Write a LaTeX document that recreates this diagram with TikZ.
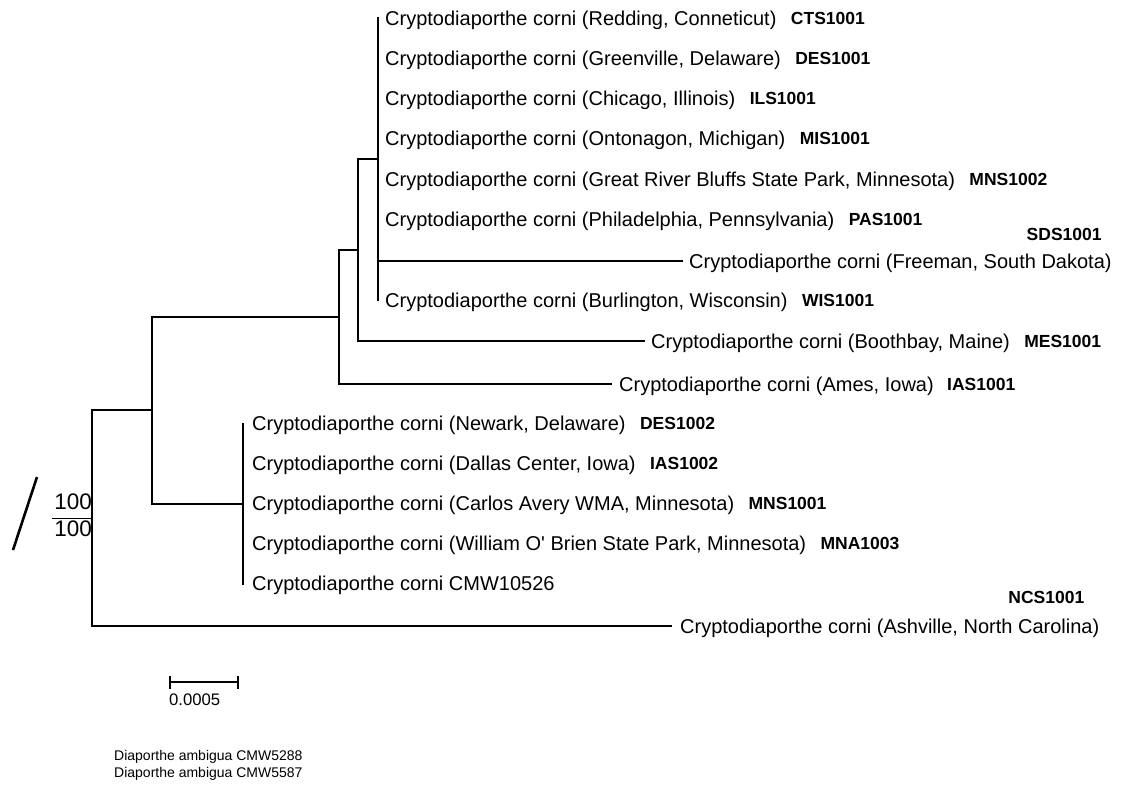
\documentclass[tikz,border=0pt]{standalone}
\usepackage{fontspec}
\setmainfont{Liberation Sans}[Ligatures=TeXOff]
\usetikzlibrary{positioning}
\tikzset{
    branch/.style={line width=1.3pt},
    taxon/.style={inner sep=0pt, anchor=west, text height=14.4pt, text depth=0pt,
        font=\fontsize{20}{24}\selectfont},
    isolate/.style={inner sep=0pt, text height=12.6pt, text depth=0pt,
        font=\fontsize{17.5}{21}\selectfont\bfseries},
    support/.style={inner sep=0pt, anchor=east, font=\fontsize{22.5}{27}\selectfont},
    scalelabel/.style={inner sep=0pt, anchor=west, font=\fontsize{16.7}{20}\selectfont},
    outgroup/.style={inner sep=0pt, anchor=north west, align=left,
        font=\fontsize{14}{17}\selectfont}
}
\newcommand{\cc}{Cryptodiaporthe corni}

\begin{document}
\begin{tikzpicture}[x=1pt, y=-1pt, node distance=14pt]
    \useasboundingbox (0,0) rectangle (1121,785);

    % internal nodes
    \coordinate (root) at (92,518);
    \coordinate (n152) at (152,410);
    \coordinate (n339) at (339,317);
    \coordinate (n358) at (358,250);
    \coordinate (n378) at (378,159);
    \coordinate (n243) at (243,504);

    % branch tips
    \coordinate (tipSD) at (683,261);
    \coordinate (tipME) at (645,341);
    \coordinate (tipIA) at (612,384);
    \coordinate (tipNC) at (672,626);

    % upper clade
    \node[taxon] (redding) at (385,18) {\cc{} (Redding, Conneticut)};
    \node[taxon] (greenville) at (385,58) {\cc{} (Greenville, Delaware)};
    \node[taxon] (chicago) at (385,98) {\cc{} (Chicago, Illinois)};
    \node[taxon] (ontonagon) at (385,138) {\cc{} (Ontonagon, Michigan)};
    \node[taxon] (greatriver) at (385,179) {\cc{} (Great River Bluffs State Park, Minnesota)};
    \node[taxon] (philadelphia) at (385,219) {\cc{} (Philadelphia, Pennsylvania)};
    \node[taxon, right=6pt of tipSD] (freeman) {\cc{} (Freeman, South Dakota)};
    \node[taxon] (burlington) at (385,300) {\cc{} (Burlington, Wisconsin)};
    \node[taxon, right=6pt of tipME] (boothbay) {\cc{} (Boothbay, Maine)};
    \node[taxon, right=7pt of tipIA] (ames) {\cc{} (Ames, Iowa)};

    % lower clade
    \node[taxon] (newark) at (252,423) {\cc{} (Newark, Delaware)};
    \node[taxon] (dallas) at (252,463) {\cc{} (Dallas Center, Iowa)};
    \node[taxon] (carlos) at (252,503) {\cc{} (Carlos Avery WMA, Minnesota)};
    \node[taxon] (william) at (252,543) {\cc{} (William O' Brien State Park, Minnesota)};
    \node[taxon] (cmw) at (252,583) {\cc{} CMW10526};
    \node[taxon, right=8pt of tipNC] (ashville) {\cc{} (Ashville, North Carolina)};

    % isolate codes
    \node[isolate, right=of redding] (cts) {CTS1001};
    \node[isolate, right=of greenville] (des1) {DES1001};
    \node[isolate, right=of chicago] (ils) {ILS1001};
    \node[isolate, right=of ontonagon] (mis) {MIS1001};
    \node[isolate, right=of greatriver] (mns2) {MNS1002};
    \node[isolate, right=of philadelphia] (pas) {PAS1001};
    \node[isolate, above left=13pt and 10pt of freeman.north east] (sds) {SDS1001};
    \node[isolate, right=of burlington] (wis) {WIS1001};
    \node[isolate, right=of boothbay] (mes) {MES1001};
    \node[isolate, right=13pt of ames] (ias1) {IAS1001};
    \node[isolate, right=of newark] (des2) {DES1002};
    \node[isolate, right=of dallas] (ias2) {IAS1002};
    \node[isolate, right=of carlos] (mns1) {MNS1001};
    \node[isolate, right=of william] (mna) {MNA1003};
    \node[isolate, above left=15pt and 15pt of ashville.north east] (ncs) {NCS1001};

    % branches
    \draw[branch] (root) |- (n152);
    \draw[branch] (root) |- (tipNC);
    \draw[branch] (n152) |- (n339);
    \draw[branch] (n152) |- (n243);
    \draw[branch] (n339) |- (n358);
    \draw[branch] (n339) |- (tipIA);
    \draw[branch] (n358) |- (n378);
    \draw[branch] (n358) |- (tipME);
    \draw[branch] (n378) |- (tipSD);
    \draw[branch] ([yshift=1pt]n378 |- redding.west) -- ([yshift=-1pt]n378 |- burlington.west);
    \draw[branch] (n243 |- newark.west) -- ([yshift=-2pt]n243 |- cmw.west);

    % support values at the root
    \coordinate (supp) at (52,518);
    \draw[line width=1pt] (supp) -- (root);
    \node[support] (bootA) at (92,502) {100};
    \node[support] (bootB) at (92,529) {100};
    \coordinate (slashA) at (13,550);
    \coordinate (slashB) at (37,477);
    \draw[line width=2.6pt] (slashA) -- (slashB);

    % scale bar
    \coordinate (barL) at (170,682);
    \coordinate (barR) at (238,682);
    \draw[branch] (barL) -- (barR);
    \draw[branch] ([yshift=6.5pt]barL) -- ([yshift=-6.5pt]barL);
    \draw[branch] ([yshift=6.5pt]barR) -- ([yshift=-6.5pt]barR);
    \node[scalelabel] (scale) at (169,700) {0.0005};

    % outgroup note
    \node[outgroup] (diap) at (114,750) {Diaporthe ambigua CMW5288\\Diaporthe ambigua CMW5587};

\end{tikzpicture}
\end{document}
